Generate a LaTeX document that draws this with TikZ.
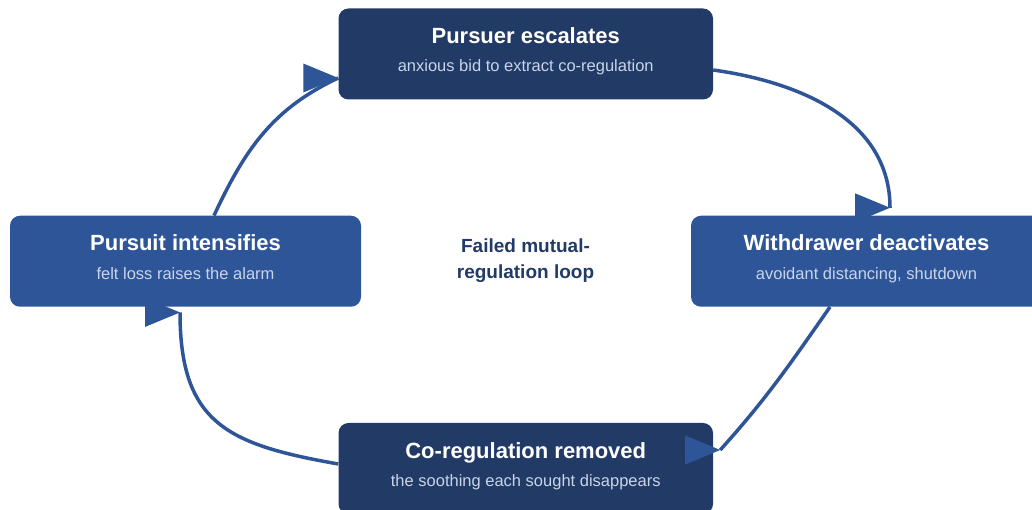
\documentclass[tikz,border=0pt]{standalone}
\usepackage{fontspec}
\setmainfont{Liberation Sans}
\usetikzlibrary{positioning}
\definecolor{navy}{HTML}{213A66}
\definecolor{blue}{HTML}{2E5597}
\definecolor{pale}{HTML}{C9D4E8}
\pgfdeclarelayer{back}
\pgfsetlayers{back,main}
\newcommand{\headat}[1]{\fill[blue] (#1) -- ++(-35,14.5) -- ++(0,-29) -- cycle;}

\begin{document}
\begin{tikzpicture}[x=1pt,y=1pt,
box/.style={rounded corners=10pt,inner sep=0pt,minimum height=91pt},
ttl/.style={anchor=base,text=white,font=\fontsize{22}{26}\selectfont\bfseries},
sub/.style={anchor=base,text=pale,font=\fontsize{16.5}{20}\selectfont},
arr/.style={blue,line width=3.5pt}]
\useasboundingbox (0,0) rectangle (1032,510);
\node[box,fill=blue,minimum width=351pt] (intens) at (185.5,248.75) {};
\node[box,fill=blue,minimum width=351pt] (withd) at (866.5,248.75) {};
\node[ttl] (intensT) at ([yshift=10.5]intens.center) {Pursuit intensifies};
\node[sub] (intensS) at ([yshift=-17.8]intens.center) {felt loss raises the alarm};
\node[ttl] (withdT) at ([yshift=10.5]withd.center) {Withdrawer deactivates};
\node[sub] (withdS) at ([yshift=-17.8]withd.center) {avoidant distancing, shutdown};
\node[font=\fontsize{19}{25.6}\selectfont\bfseries,text=navy,align=center] (loop) at (525.5,249.5) {Failed mutual-\\regulation loop};
\begin{pgfonlayer}{back}
\node[box,fill=navy,minimum width=374.5pt] (escal) at (525.75,456) {};
\node[box,fill=navy,minimum width=374.5pt] (removed) at (525.75,41.5) {};
\node[ttl] (escalT) at ([yshift=10]escal.center) {Pursuer escalates};
\node[sub] (escalS) at ([yshift=-18]escal.center) {anxious bid to extract co-regulation};
\node[ttl] (removedT) at ([yshift=10]removed.center) {Co-regulation removed};
\node[sub] (removedS) at ([yshift=-18]removed.center) {the soothing each sought disappears};
% arrow ends
\coordinate (h1) at ([yshift=-24]escal.west);
\coordinate (h2) at ([xshift=23.5,yshift=7.75]withd.north);
\coordinate (h3) at ([xshift=7,yshift=18.5]removed.east);
\coordinate (h4) at ([xshift=-5.5,yshift=-5.5]intens.south);
\draw[arr] ([xshift=28.5]intens.north) to[out=65,in=205] (h1);\headat{h1}
\draw[arr] ([yshift=-16]escal.east) to[out=-8,in=90] (h2);\headat{h2}
\draw[arr] ([xshift=-36.5]withd.south) to[out=235,in=48] (h3);\headat{h3}
\draw[arr] ([yshift=4.5]removed.west) to[out=170,in=-90,looseness=1.3] (h4);\headat{h4}
\end{pgfonlayer}
\end{tikzpicture}
\end{document}
